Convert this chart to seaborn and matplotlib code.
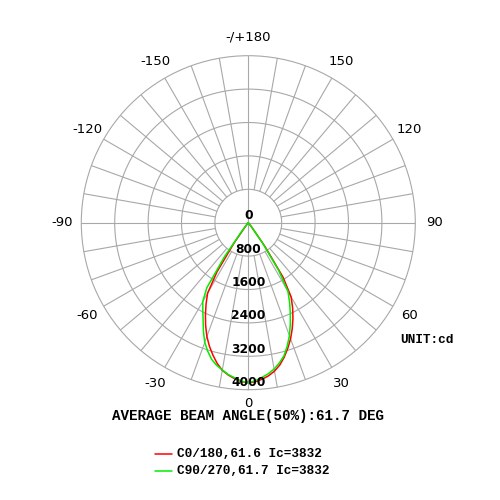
import numpy as np
import pandas as pd
import matplotlib
matplotlib.use("Agg")
import matplotlib.pyplot as plt
from matplotlib.lines import Line2D
import seaborn as sns

# Angles gamma (deg) : pas de 2,5 jusqu'a 50, puis pas de 5
gamma = [0, 2.5, 5, 7.5, 10, 12.5, 15, 17.5, 20, 22.5, 25, 27.5, 30, 32.5, 35,
         37.5, 40, 42.5, 45, 47.5, 50, 55, 60, 65, 70, 75, 80, 85, 90]

c0 = [3832, 3815, 3765, 3700, 3610, 3490, 3330, 3150, 2960, 2750, 2530, 2300, 2050, 1550, 700,
      150, 20, 0, 0, 0, 0, 0, 0, 0, 0, 0, 0, 0, 0]
c180 = [3832, 3810, 3750, 3680, 3590, 3450, 3280, 3100, 2900, 2670, 2430, 2190, 1950, 1400, 600,
        120, 20, 0, 0, 0, 0, 0, 0, 0, 0, 0, 0, 0, 0]
c90 = [3832, 3790, 3720, 3650, 3560, 3440, 3300, 3100, 2880, 2630, 2380, 2140, 1900, 1350, 600,
       120, 10, 0, 0, 0, 0, 0, 0, 0, 0, 0, 0, 0, 0]
c270 = [3832, 3800, 3730, 3670, 3580, 3500, 3390, 3230, 3050, 2810, 2560, 2360, 2180, 1850, 1000,
        250, 30, 0, 0, 0, 0, 0, 0, 0, 0, 0, 0, 0, 0]

curve_labels = ["C0/180,61.6 Ic=3832", "C90/270,61.7 Ic=3832"]
curve_colors = ["#ff0000", "#00ee00"]

ring_values = [0, 800, 1600, 2400, 3200, 4000]
angle_ticks = [0, 30, 60, 90, 120, 150, 180, -30, -60, -90, -120, -150]
angle_texts = ["0", "30", "60", "90", "120", "150", "-/+180", "-30", "-60", "-90", "-120", "-150"]

title_text = "AVERAGE BEAM ANGLE(50%):61.7 DEG"
unit_text = "UNIT:cd"

sns.set_style("white")
plt.rcParams['font.family'] = ['DejaVu Sans']
plt.rcParams['text.color'] = 'black'

GRID = "#a8a8a8"
RMAX = 4000


def half_planes(right, left):
    """Assemble un plan C complet : droite angles positifs, gauche angles negatifs"""
    ang = [-g for g in gamma[::-1]] + gamma[1:]
    val = left[::-1] + right[1:]
    return np.deg2rad(ang), val


rows = []
for label, (right, left) in zip(curve_labels, [(c0, c180), (c90, c270)]):
    th, val = half_planes(right, left)
    for t, v in zip(th, val):
        rows.append({"theta": t, "cd": v, "curve": label})
df = pd.DataFrame(rows)

fig = plt.figure(figsize=(5, 5), dpi=100)
ax = fig.add_axes([0.1626, 0.2206, 0.668, 0.668], projection="polar")
ax.set_theta_zero_location("S")
ax.set_theta_direction(1)
ax.set_ylim(0, RMAX)
ax.grid(False)
ax.set_xticks([])
ax.set_yticks([])
ax.spines["polar"].set_color(GRID)
ax.spines["polar"].set_linewidth(0.8)

# Grille : cercles et rayons (tous les 10 degres, a partir du premier cercle)
circ = np.linspace(0, 2 * np.pi, 361)
for r in ring_values[1:-1]:
    ax.plot(circ, [r] * len(circ), color=GRID, lw=0.8, zorder=1)
for a in range(0, 360, 10):
    t = np.deg2rad(a)
    r0 = 0 if a % 90 == 0 else ring_values[1]
    ax.plot([t, t], [r0, RMAX], color=GRID, lw=0.8, zorder=1)

sns.lineplot(data=df, x="theta", y="cd", hue="curve", palette=curve_colors,
             sort=False, estimator=None, legend=False, linewidth=1.1, ax=ax, zorder=3)
ax.set_xlabel("")
ax.set_ylabel("")

# Etiquettes angulaires
for a, s in zip(angle_ticks, angle_texts):
    rr = 4330 if a == 0 else 4450
    ax.text(np.deg2rad(a), rr, s, ha="center", va="center",
            fontsize=9.5, clip_on=False)

# Etiquettes radiales
for r in ring_values:
    ax.annotate(str(r), xy=(0, r), xytext=(0, 5), textcoords="offset points",
                ha="center", va="center", fontsize=8.8, fontweight="bold", zorder=4)

mono = "Liberation Mono"
fig.text(0.854, 0.32, unit_text, ha="center", va="center", fontsize=9.2,
         family=mono, fontweight="bold")
fig.text(0.497, 0.168, title_text, ha="center", va="center", fontsize=10.3,
         family=mono, fontweight="bold")

for i, (label, color) in enumerate(zip(curve_labels, curve_colors)):
    y = 0.092 - i * 0.034
    fig.add_artist(Line2D([0.31, 0.344], [y, y], color=color, lw=1.1,
                          transform=fig.transFigure))
    fig.text(0.354, y, label, ha="left", va="center", fontsize=9.2,
             family=mono, fontweight="bold")

fig.savefig("out.png", dpi=100)
